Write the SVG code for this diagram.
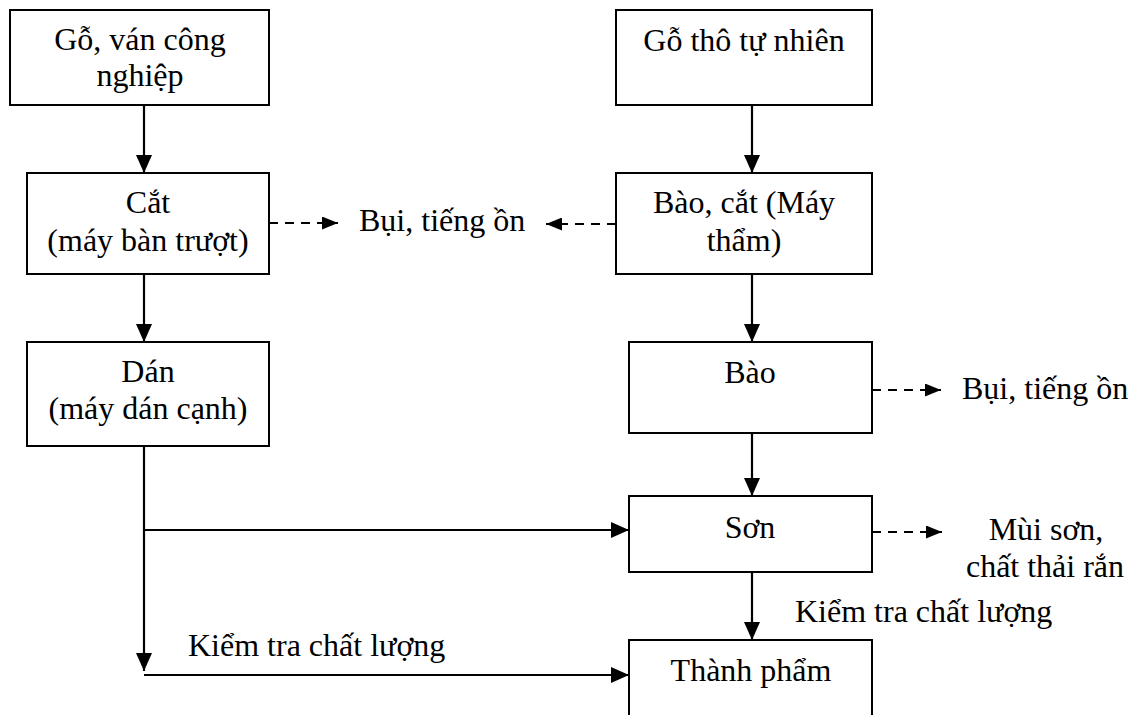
<svg xmlns="http://www.w3.org/2000/svg" width="1141" height="715" viewBox="0 0 1141 715">
<style>
.box{fill:#fff;stroke:#000;stroke-width:2}
text{font-family:"Liberation Serif","Times New Roman",serif;font-size:32px;fill:#000}
.c{text-anchor:middle}
.ln{fill:none;stroke:#000;stroke-width:2.2}
.solid{marker-end:url(#ah)}
.dash{stroke-dasharray:9 7;marker-end:url(#ahd)}
</style>
<defs>
<marker id="ah" markerUnits="userSpaceOnUse" markerWidth="18" markerHeight="16" refX="18" refY="8" orient="auto"><path d="M0,0 L18,8 L0,16 Z" fill="#000"/></marker>
<marker id="ahd" markerUnits="userSpaceOnUse" markerWidth="16" markerHeight="13" refX="16" refY="6.5" orient="auto"><path d="M0,0 L16,6.5 L0,13 Z" fill="#000"/></marker>
</defs>
<rect width="1141" height="715" fill="#fff"/>
<g id="connectors">
<path class="ln solid" d="M144,105 V173"/>
<path class="ln solid" d="M752,105 V173"/>
<path class="ln solid" d="M144,274 V342"/>
<path class="ln solid" d="M752,274 V342"/>
<path class="ln solid" d="M752,433 V496"/>
<path class="ln solid" d="M752,572 V640"/>
<path class="ln solid" d="M144,446 V671"/>
<path class="ln solid" d="M144,530 H629"/>
<path class="ln solid" d="M144,675 H629"/>
<path class="ln dash" d="M269,223 H338"/>
<path class="ln dash" d="M616,224 H546"/>
<path class="ln dash" d="M872,390 H941"/>
<path class="ln dash" d="M872,532 H942"/>
</g>
<g id="n-go-van">
<rect class="box" x="10" y="10" width="259" height="95"/>
<text class="c" x="140" y="50">Gỗ, ván công</text>
<text class="c" x="140" y="86">nghiệp</text>
</g>
<g id="n-go-tho">
<rect class="box" x="616" y="10" width="256" height="95"/>
<text class="c" x="744" y="51">Gỗ thô tự nhiên</text>
</g>
<g id="n-cat">
<rect class="box" x="27" y="173" width="242" height="101"/>
<text class="c" x="148" y="213">Cắt</text>
<text class="c" x="148" y="251">(máy bàn trượt)</text>
</g>
<g id="n-bao-cat">
<rect class="box" x="616" y="173" width="256" height="101"/>
<text class="c" x="744" y="213">Bào, cắt (Máy</text>
<text class="c" x="744" y="251">thẩm)</text>
</g>
<g id="n-dan">
<rect class="box" x="27" y="342" width="242" height="104"/>
<text class="c" x="148" y="382">Dán</text>
<text class="c" x="148" y="419">(máy dán cạnh)</text>
</g>
<g id="n-bao">
<rect class="box" x="629" y="342" width="243" height="91"/>
<text class="c" x="750" y="383">Bào</text>
</g>
<g id="n-son">
<rect class="box" x="629" y="496" width="243" height="76"/>
<text class="c" x="750" y="538">Sơn</text>
</g>
<g id="n-thanh-pham">
<rect class="box" x="629" y="640" width="243" height="85"/>
<text class="c" x="751" y="681">Thành phẩm</text>
</g>
<g id="labels">
<text x="359" y="231">Bụi, tiếng ồn</text>
<text x="962" y="399">Bụi, tiếng ồn</text>
<text class="c" x="1046" y="540">Mùi sơn,</text>
<text class="c" x="1045" y="577">chất thải rắn</text>
<text x="795" y="622">Kiểm tra chất lượng</text>
<text x="188" y="656">Kiểm tra chất lượng</text>
</g>
</svg>
